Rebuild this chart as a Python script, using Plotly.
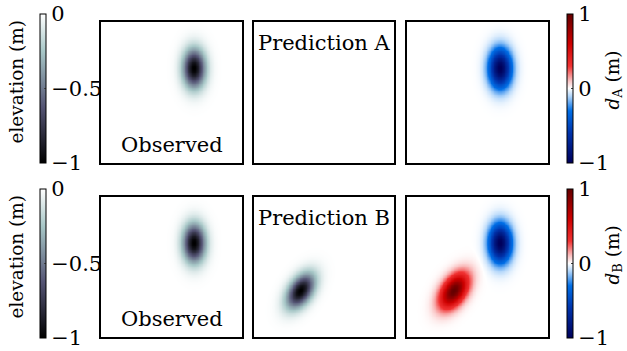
import numpy as np
import plotly.graph_objects as go

# Gaussian depressions (elevation anomalies) on a unit square grid
blob_names = ["observed", "prediction_B"]
blob_cx = [0.66, 0.333]
blob_cy = [0.67, 0.33]
blob_sig_minor = [0.055, 0.055]
blob_sig_major = [0.095, 0.095]
blob_tilt_deg = [0.0, -33.0]   # rotation of major axis from vertical
blob_depth = [-1.0, -1.0]

elev_ticks = [0, -0.5, -1]
elev_ticktext = ["0", "\u22120.5", "\u22121"]
diff_ticks = [1, 0, -1]
diff_ticktext = ["1", "0", "\u22121"]

panel_labels = [["Observed", "Prediction A", ""], ["Observed", "Prediction B", ""]]
diff_titles = ["<i>d</i><sub>A</sub> (m)", "<i>d</i><sub>B</sub> (m)"]

n = 181
g = np.linspace(0, 1, n)
X, Y = np.meshgrid(g, g)


def blob(i):
    th = np.deg2rad(blob_tilt_deg[i])
    dx = X - blob_cx[i]
    dy = Y - blob_cy[i]
    u = dx * np.cos(th) + dy * np.sin(th)
    v = -dx * np.sin(th) + dy * np.cos(th)
    return blob_depth[i] * np.exp(-0.5 * ((u / blob_sig_minor[i]) ** 2 + (v / blob_sig_major[i]) ** 2))


observed = blob(0)
pred_A = np.zeros_like(observed)
pred_B = blob(1)
fields = [[observed, pred_A, observed - pred_A], [observed, pred_B, observed - pred_B]]

# MATLAB-style "bone" colormap
bone = [[0.0, "rgb(0,0,0)"], [0.375, "rgb(84,84,116)"], [0.75, "rgb(167,199,199)"], [1.0, "rgb(255,255,255)"]]
# blue-white-red diverging map
bwr = [
    [0.0, "rgb(0,0,90)"], [0.2, "rgb(0,50,170)"], [0.35, "rgb(0,110,230)"],
    [0.45, "rgb(180,215,250)"], [0.5, "rgb(255,255,255)"], [0.55, "rgb(250,195,195)"],
    [0.65, "rgb(240,50,50)"], [0.8, "rgb(205,0,0)"], [1.0, "rgb(100,0,0)"],
]

W, H = 627, 351
px = lambda x: x / W
py = lambda y: 1 - y / H

col_x = [(101, 242), (254, 394), (407, 548)]
row_y = [(22, 163), (197, 337)]
bar_top = [14, 189]
bar_len = 149

fig = go.Figure()
font_family = "DejaVu Serif"
fs = 21
base_font = dict(family=font_family, size=fs, color="black")
title_font = dict(base_font, size=18.5)

layout = dict(
    width=W, height=H, margin=dict(l=0, r=0, t=0, b=0, autoexpand=False),
    paper_bgcolor="white", plot_bgcolor="white", showlegend=False,
    font=base_font,
)

annotations = []
k = 0
for r in range(2):
    ca_elev = f"coloraxis{2 * r + 1}"
    ca_diff = f"coloraxis{2 * r + 2}"
    layout[ca_elev] = dict(
        colorscale=bone, cmin=-1, cmax=0,
        colorbar=dict(
            x=px(40), xanchor="left", xpad=0, y=py(bar_top[r]), yanchor="top", ypad=0,
            len=bar_len, lenmode="pixels", thickness=6, outlinewidth=1, outlinecolor="black",
            tickvals=elev_ticks, ticktext=elev_ticktext, ticks="inside", ticklen=2,
            ticklabeloverflow="allow", tickfont=base_font,
        ),
    )
    layout[ca_diff] = dict(
        colorscale=bwr, cmin=-1, cmax=1,
        colorbar=dict(
            x=px(567), xanchor="left", xpad=0, y=py(bar_top[r]), yanchor="top", ypad=0,
            len=bar_len, lenmode="pixels", thickness=6, outlinewidth=1, outlinecolor="black",
            tickvals=diff_ticks, ticktext=diff_ticktext, ticks="inside", ticklen=2,
            ticklabeloverflow="allow", tickfont=base_font,
        ),
    )
    for c in range(3):
        k += 1
        sfx = "" if k == 1 else str(k)
        z = fields[r][c]
        fig.add_trace(go.Heatmap(
            x=g, y=g, z=z, coloraxis=ca_diff if c == 2 else ca_elev,
            xaxis="x" + sfx, yaxis="y" + sfx, hoverinfo="skip",
        ))
        ax = dict(range=[0, 1], showgrid=False, zeroline=False, showticklabels=False, ticks="",
                  showline=True, mirror=True, linecolor="black", linewidth=1.5)
        layout["xaxis" + sfx] = dict(ax, domain=[px(col_x[c][0]), px(col_x[c][1])], anchor="y" + sfx)
        layout["yaxis" + sfx] = dict(ax, domain=[py(row_y[r][1]), py(row_y[r][0])], anchor="x" + sfx)
        lab = panel_labels[r][c]
        if lab == "Observed":
            annotations.append(dict(text=lab, x=0.5, y=0.03, xref="x" + sfx + " domain", yref="y" + sfx + " domain",
                                    xanchor="center", yanchor="bottom", showarrow=False, font=base_font))
        elif lab:
            annotations.append(dict(text=lab, x=0.5, y=0.95, xref="x" + sfx + " domain", yref="y" + sfx + " domain",
                                    xanchor="center", yanchor="top", showarrow=False, font=base_font))
    mid = bar_top[r] + bar_len / 2
    annotations.append(dict(text="elevation (m)", textangle=-90, x=px(16), y=py(mid - 7), xref="paper", yref="paper",
                            xanchor="center", yanchor="middle", showarrow=False, font=title_font))
    annotations.append(dict(text=diff_titles[r], textangle=-90, x=px(613), y=py(mid - 8), xref="paper", yref="paper",
                            xanchor="center", yanchor="middle", showarrow=False, font=title_font))

layout["annotations"] = annotations
fig.update_layout(**layout)
fig.write_html("out.html")
